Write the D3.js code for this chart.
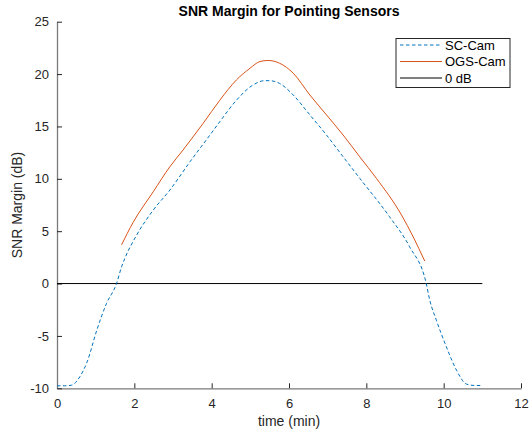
<!DOCTYPE html>
<html lang="en">
<head>
  <meta charset="utf-8">
  <title>SNR Margin for Pointing Sensors</title>
  <script src="https://d3js.org/d3.v7.min.js"></script>
  <style>
    body { margin: 0; background: #fff; }
    text { font-family: "Liberation Sans", Arial, sans-serif; fill: #262626; }
    .tick text { font-size: 13px; }
    .title { font-size: 14px; font-weight: bold; fill: #000; }
    .label { font-size: 14px; }
    .legend text { font-size: 13px; fill: #000; }
  </style>
</head>
<body>
  <svg width="531" height="432"></svg>
  <script>
    // SC-Cam (dashed blue)
    var scTime = [0, 0.2, 0.38, 0.59, 0.78, 1.03, 1.28, 1.54, 1.67, 1.76, 2.06, 2.49, 2.92, 3.44, 3.95, 4.21, 4.64, 5.07, 5.37, 5.50, 5.76, 6.11, 6.54, 6.97, 7.40, 7.83, 8.60, 9.12, 9.55, 9.64, 9.81, 10.07, 10.33, 10.59, 10.8, 10.97];
    var scSnr  = [-9.76, -9.76, -9.7, -8.9, -7.47, -4.44, -1.9, 0, 1.6, 2.45, 4.63, 7.02, 8.93, 11.63, 14.15, 15.45, 17.5, 18.96, 19.37, 19.37, 19.1, 18.0, 16.1, 14.18, 12.1, 10.05, 6.38, 3.51, 0, -1.58, -3.49, -6.04, -8.26, -9.6, -9.73, -9.73];
    // OGS-Cam (solid orange)
    var ogsTime = [1.67, 1.97, 2.49, 2.92, 3.26, 3.78, 4.21, 4.64, 4.99, 5.25, 5.46, 5.76, 6.11, 6.54, 6.97, 7.40, 7.83, 8.26, 8.91, 9.21, 9.51];
    var ogsSnr  = [3.7, 5.85, 8.77, 11.16, 12.75, 15.3, 17.5, 19.44, 20.55, 21.2, 21.3, 21.03, 20.08, 18.0, 16.1, 14.18, 12.1, 10.05, 6.54, 4.47, 2.15];
    // 0 dB reference line
    var zeroTime = [0, 11];
    var zeroSnr = [0, 0];

    var xTicks = [0, 2, 4, 6, 8, 10, 12];
    var yTicks = [-10, -5, 0, 5, 10, 15, 20, 25];
    var names = ["SC-Cam", "OGS-Cam", "0 dB"];
    var colors = ["#0072BD", "#D95319", "#000000"];
    var dashes = ["3.5,2.5", null, null];

    var svg = d3.select("svg");
    var mLeft = 57, mRight = 521, mTop = 21.7, mBottom = 388.3;

    var x = d3.scaleLinear().domain([0, 12]).range([mLeft, mRight]);
    var y = d3.scaleLinear().domain([-10, 25]).range([mBottom, mTop]);

    // axes (ticks inward, MATLAB style)
    var xAxis = svg.append("g")
      .attr("transform", "translate(0," + mBottom + ")")
      .call(d3.axisBottom(x).tickValues(xTicks).tickFormat(d => String(d))
        .tickSizeInner(-5).tickSizeOuter(0).tickPadding(10));
    var yAxis = svg.append("g")
      .attr("transform", "translate(" + mLeft + ",0)")
      .call(d3.axisLeft(y).tickValues(yTicks).tickFormat(d => String(d))
        .tickSizeInner(-5).tickSizeOuter(0).tickPadding(8));
    [xAxis, yAxis].forEach(function(a) {
      a.select(".domain").attr("stroke", "#7a7a7a").attr("stroke-width", 1.3);
      a.selectAll(".tick line").attr("stroke", "#262626");
      a.selectAll(".tick text").attr("fill", "#262626");
    });

    var line = d3.line().curve(d3.curveMonotoneX).x(d => x(d[0])).y(d => y(d[1]));
    var series = [
      d3.zip(scTime, scSnr),
      d3.zip(ogsTime, ogsSnr),
      d3.zip(zeroTime, zeroSnr)
    ];
    // draw the 0 dB line first, then the others on top
    [2, 1, 0].forEach(function(i) {
      svg.append("path")
        .datum(series[i])
        .attr("d", line)
        .attr("fill", "none")
        .attr("stroke", colors[i])
        .attr("stroke-width", 1)
        .attr("stroke-dasharray", dashes[i]);
    });

    // title and labels
    svg.append("text").attr("class", "title")
      .attr("x", (mLeft + mRight) / 2).attr("y", 16)
      .attr("text-anchor", "middle")
      .text("SNR Margin for Pointing Sensors");
    svg.append("text").attr("class", "label")
      .attr("x", (mLeft + mRight) / 2).attr("y", 426)
      .attr("text-anchor", "middle")
      .text("time (min)");
    svg.append("text").attr("class", "label")
      .attr("transform", "translate(22," + (mTop + mBottom) / 2 + ") rotate(-90)")
      .attr("text-anchor", "middle")
      .text("SNR Margin (dB)");

    // legend
    var legend = svg.append("g").attr("class", "legend");
    legend.append("rect")
      .attr("x", 396).attr("y", 38.5).attr("width", 114).attr("height", 49)
      .attr("fill", "#fff").attr("stroke", "#262626").attr("stroke-width", 1);
    names.forEach(function(n, i) {
      var ly = 45 + i * 16.5;
      legend.append("line")
        .attr("x1", 400).attr("x2", 442).attr("y1", ly).attr("y2", ly)
        .attr("stroke", colors[i]).attr("stroke-width", 1)
        .attr("stroke-dasharray", dashes[i]);
      legend.append("text")
        .attr("x", 445).attr("y", ly + 4.5)
        .text(n);
    });
  </script>
</body>
</html>
